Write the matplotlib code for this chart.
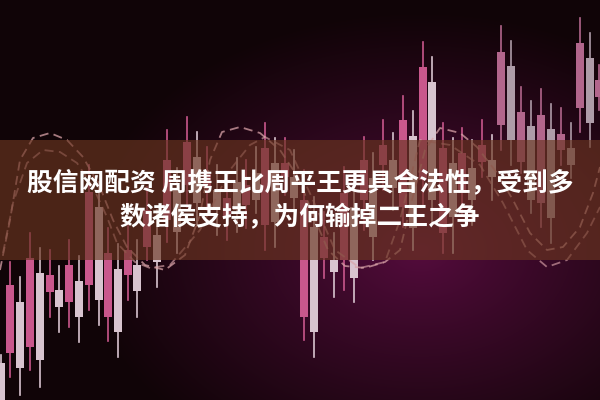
import numpy as np
import matplotlib.pyplot as plt

plt.rcParams['font.family'] = ['Noto Sans CJK SC', 'DejaVu Sans']

# candle x positions (pixel-like scale 0..600), y values read top-down off the picture
cx = [1, 10, 20, 30, 40, 50, 59, 69, 79, 89, 99, 108, 118, 128, 137, 147, 157, 167, 177, 187,
      197, 207, 217, 227, 237, 246, 256, 265, 275, 285, 294, 304, 314, 324, 334, 344, 354, 364,
      373, 383, 393, 403, 413, 423, 432, 443, 453, 462, 472, 482, 492, 501, 511, 521, 531, 541,
      551, 561, 571, 580, 590, 599]
body_top = [363, 285, 302, 258, 273, 275, 290, 265, 281, 192, 207, 253, 269, 250, 265, 210, 235, 160, 190, 142,
            157, 172, 190, 198, 182, 185, 173, 148, 163, 163, 177, 200, 227, 237, 260, 193, 207, 160,
            178, 145, 160, 120, 136, 67, 82, 148, 163, 153, 168, 145, 160, 52, 66, 112, 126, 115,
            129, 134, 148, 43, 58, 80]
body_bot = [405, 353, 368, 347, 360, 292, 307, 302, 317, 285, 300, 317, 332, 275, 291, 247, 262, 220, 232, 185,
            203, 188, 210, 217, 210, 205, 200, 225, 222, 177, 198, 317, 332, 258, 272, 260, 278, 200,
            237, 165, 188, 207, 228, 180, 200, 233, 217, 193, 200, 162, 177, 125, 140, 162, 200, 203,
            218, 150, 165, 108, 123, 97]
wick_top = [355, 262, 277, 233, 248, 250, 266, 240, 256, 165, 182, 228, 244, 226, 240, 187, 210, 130, 168, 117,
            132, 147, 165, 175, 158, 160, 147, 123, 138, 138, 150, 170, 197, 212, 233, 167, 182, 137,
            153, 120, 133, 96, 111, 42, 57, 123, 138, 128, 140, 120, 135, 26, 41, 87, 101, 89,
            104, 108, 123, 18, 33, 65]
wick_bot = [405, 377, 395, 370, 387, 317, 332, 327, 342, 310, 325, 341, 357, 300, 317, 260, 287, 242, 253, 207,
            226, 210, 235, 240, 232, 228, 213, 250, 247, 195, 222, 340, 357, 278, 297, 290, 302, 230,
            260, 190, 210, 227, 250, 205, 225, 253, 253, 215, 225, 177, 200, 150, 165, 173, 213, 227,
            243, 165, 178, 132, 147, 110]

# dashed arcs
arc_a_x = [0, 10, 20, 33, 50, 67, 83, 100, 113, 127, 145, 165, 185, 200, 210, 222, 240, 260, 280, 298,
           314, 328, 345, 365, 385, 400, 412, 425, 440, 460, 477, 497, 513, 530, 547, 563, 580, 593, 600]
arc_a_y = [270, 220, 160, 138, 133, 140, 157, 187, 220, 247, 265, 270, 255, 215, 160, 132, 127, 133, 150, 177,
           217, 250, 266, 268, 262, 250, 200, 150, 128, 133, 147, 173, 200, 233, 250, 247, 227, 193, 167]
arc_b_x = [3, 13, 27, 43, 60, 77, 93, 107, 117, 135, 150, 170, 200, 230, 250, 265, 290, 313, 335, 360,
           385, 400, 420, 450, 480, 503, 527, 547, 567, 587, 600]
arc_b_y = [253, 203, 163, 150, 152, 163, 187, 217, 243, 262, 268, 265, 230, 170, 145, 137, 150, 200, 250, 268,
           262, 220, 140, 145, 165, 203, 250, 267, 260, 233, 207]

line1 = '股信网配资 周携王比周平王更具合法性，受到多'
line2 = '数诸侯支持，为何输掉二王之争'

fig = plt.figure(figsize=(6, 4), dpi=100)
ax = fig.add_axes([0, 0, 1, 1])
ax.set_xlim(0, 600)
ax.set_ylim(400, 0)
ax.axis('off')

# background glow
gx, gy = np.meshgrid(np.arange(600), np.arange(400))
d = np.sqrt(((gx - 420) / 340.0) ** 2 + ((gy - 250) / 240.0) ** 2)
t = np.clip(d, 0, 1) ** 0.85
c0 = np.array([86, 12, 62]) / 255.0
c1 = np.array([16, 4, 7]) / 255.0
bg = c0[None, None, :] * (1 - t[..., None]) + c1[None, None, :] * t[..., None]
ax.imshow(bg, extent=[0, 600, 400, 0], aspect='auto', zorder=0)

# candles
for i in range(len(cx)):
    pink = i % 2 == 1
    if cx[i] >= 495:
        col = '#b2668c' if pink else '#ae9ca8'
    else:
        col = '#c9578c' if pink else '#d8c4cf'
    ax.plot([cx[i], cx[i]], [wick_top[i], wick_bot[i]], color=col, lw=1.2, zorder=2)
    ax.bar(cx[i], body_bot[i] - body_top[i], bottom=body_top[i], width=7.5,
           color=col, edgecolor='none', zorder=3)

ax.plot(arc_a_x, arc_a_y, color='#d9a3a8', lw=1.3, ls=(0, (5, 3)), alpha=0.75, zorder=4)
ax.plot(arc_b_x, arc_b_y, color='#d9a3a8', lw=1.3, ls=(0, (5, 3)), alpha=0.65, zorder=4)

# banner
ax.axhspan(140, 260, color='#6a3520', alpha=0.66, lw=0, zorder=5)

ax.text(300, 184, line1, color='white', fontsize=18.5, fontweight='bold',
        ha='center', va='center', zorder=6)
ax.text(300, 218, line2, color='white', fontsize=18.5, fontweight='bold',
        ha='center', va='center', zorder=6)

fig.savefig('out.png', dpi=100)
